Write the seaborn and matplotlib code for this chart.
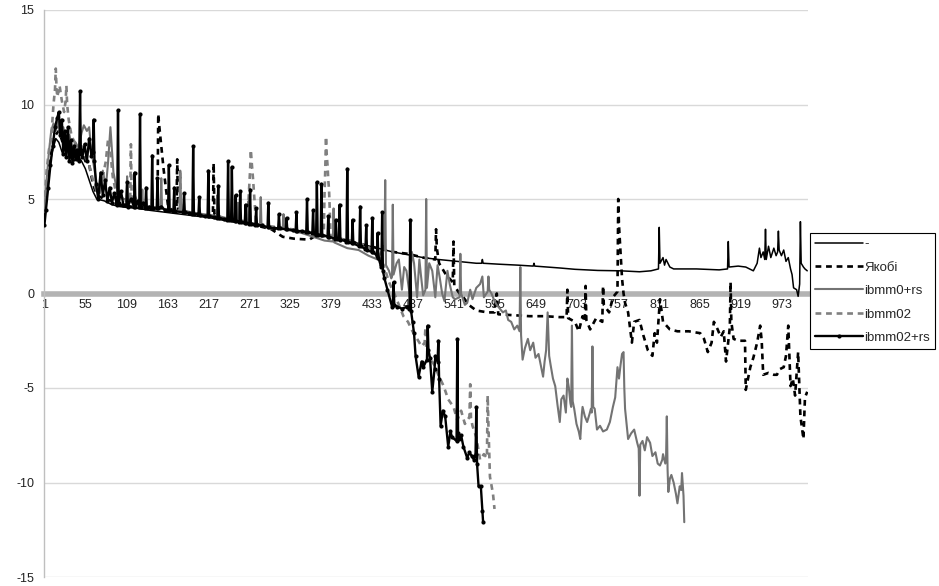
import matplotlib
matplotlib.use("Agg")
import matplotlib.pyplot as plt
import seaborn as sns

# --- дані: пари (номер точки, значення) ---
x_tick_labels = [1, 55, 109, 163, 217, 271, 325, 379, 433, 487, 541, 595, 649, 703, 757, 811, 865, 919, 973]
y_ticks = [-15, -10, -5, 0, 5, 10, 15]

dash_pts = [(1, 3.8), (4, 5.2), (8, 6.8), (12, 7.6), (16, 8.2), (20, 8.0), (25, 7.4), (30, 7.9), (35, 7.2),
            (40, 7.0), (45, 7.3), (50, 7.0), (55, 6.6), (60, 6.0), (65, 5.4), (70, 5.0), (80, 4.9), (90, 4.7),
            (100, 4.6), (110, 4.55), (125, 4.5), (140, 4.4), (160, 4.3), (180, 4.2), (200, 4.1), (220, 4.0),
            (240, 3.85), (260, 3.75), (280, 3.6), (300, 3.5), (320, 3.4), (340, 3.3), (360, 3.15), (380, 3.0),
            (400, 2.8), (420, 2.6), (440, 2.4), (460, 2.2), (480, 2.05), (500, 1.9), (520, 1.8), (545, 1.7),
            (570, 1.6), (577, 1.6), (578, 1.8), (579, 1.6), (600, 1.55), (625, 1.5), (645, 1.45), (646, 1.6),
            (647, 1.45), (680, 1.35), (700, 1.28), (730, 1.22), (760, 1.2), (785, 1.15), (800, 1.2),
            (810, 1.3), (811, 3.5), (812, 1.6), (816, 1.9), (818, 1.5), (820, 1.8), (825, 1.4), (830, 1.3),
            (860, 1.3), (890, 1.25), (901, 1.3), (902, 2.75), (903, 1.4), (915, 1.45), (925, 1.4), (935, 1.2),
            (940, 1.6), (943, 2.4), (945, 1.9), (948, 2.2), (950, 1.8), (951, 3.4), (952, 1.8), (955, 2.5),
            (958, 1.9), (962, 2.4), (965, 2.0), (967, 2.2), (968, 3.3), (969, 2.3), (972, 2.0), (975, 2.3),
            (978, 1.7), (981, 1.9), (984, 1.3), (986, 1.0), (988, 0.3), (992, 0.2), (994, -0.15), (996, 0.5),
            (997, 3.8), (998, 1.6), (1001, 1.4), (1003, 1.3), (1006, 1.2)]

jac_pts = [(1, 4.0), (4, 5.5), (8, 7.0), (12, 7.8), (16, 8.4), (20, 8.6), (25, 8.0), (30, 8.3), (35, 7.6),
           (40, 7.8), (45, 7.4), (50, 7.6), (55, 7.0), (60, 6.8), (65, 5.8), (70, 5.2), (80, 5.0), (90, 4.9),
           (100, 4.7), (115, 4.6), (130, 4.5), (150, 4.5), (151, 9.5), (152, 9.0), (154, 8.2), (156, 7.4),
           (158, 6.6), (161, 5.6), (164, 4.6), (170, 4.4), (175, 4.4), (176, 7.1), (177, 4.4), (190, 4.3),
           (205, 4.2), (223, 4.1), (224, 6.9), (225, 4.2), (240, 3.9), (260, 3.75), (280, 3.6), (300, 3.4),
           (315, 3.0), (330, 2.9), (350, 2.85), (360, 3.1), (380, 3.0), (400, 2.8), (420, 2.6), (440, 2.4),
           (460, 2.2), (480, 2.1), (500, 1.9), (516, 1.8), (517, 3.4), (518, 2.4), (521, 1.6), (530, 1.0),
           (539, 0.6), (540, 2.75), (541, 0.4), (548, 0.0), (553, -0.2), (560, -0.6), (570, -0.9), (585, -1.0),
           (594, -1.0), (595, -0.4), (597, 0.0), (599, -1.1), (620, -1.15), (640, -1.2), (660, -1.2),
           (680, -1.25), (689, -1.25), (690, 0.2), (691, -1.3), (700, -1.5), (705, -2.0), (710, -1.2),
           (713, -1.5), (714, 0.4), (715, -1.4), (720, -1.9), (728, -1.3), (736, -1.5), (737, 0.4),
           (738, -0.6), (745, -1.0), (750, -0.2), (756, 0.1), (757, 5.0), (758, 3.6), (760, 2.2), (762, 0.8),
           (764, 0.0), (766, -0.5), (770, -1.0), (775, -2.6), (778, -1.5), (785, -1.4), (790, -2.2),
           (796, -3.0), (802, -3.3), (805, -2.1), (808, -2.6), (812, -0.3), (816, -1.5), (825, -1.9),
           (835, -2.0), (850, -2.0), (865, -2.1), (870, -2.4), (875, -3.1), (880, -2.6), (883, -1.5),
           (888, -1.9), (892, -2.3), (896, -2.0), (899, -3.6), (904, -1.8), (905, 0.6), (906, -1.5),
           (909, -2.4), (915, -2.5), (924, -2.5), (925, -5.1), (928, -4.5), (931, -3.9), (935, -3.4),
           (940, -2.6), (944, -1.7), (946, -2.5), (948, -4.3), (955, -4.2), (962, -4.3), (966, -4.3),
           (970, -4.0), (975, -3.9), (978, -3.3), (981, -1.7), (984, -4.9), (987, -4.5), (990, -5.4),
           (994, -3.1), (997, -6.5), (1001, -7.7), (1003, -5.5), (1006, -5.2)]

g0_pts = [(1, 4.3), (4, 6.0), (7, 7.5), (10, 8.6), (13, 9.0), (16, 8.6), (19, 9.1), (22, 8.3), (26, 8.8),
          (30, 7.9), (34, 8.4), (38, 7.6), (42, 8.0), (46, 7.7), (50, 8.5), (53, 8.9), (57, 8.6), (60, 8.8),
          (63, 7.5), (66, 6.8), (70, 5.8), (74, 5.3), (78, 6.5), (82, 5.6), (85, 7.0), (87, 8.2), (88, 8.8),
          (90, 7.6), (92, 6.4), (95, 5.8), (100, 5.3), (105, 5.0), (109, 5.0), (110, 6.2), (111, 4.9),
          (120, 5.2), (125, 4.7), (129, 4.7), (130, 5.5), (131, 4.6), (140, 4.5), (150, 4.6), (154, 4.5),
          (155, 6.1), (156, 4.5), (170, 4.4), (179, 4.35), (180, 6.5), (181, 4.4), (195, 4.3), (210, 4.2),
          (228, 4.1), (229, 5.2), (230, 4.1), (245, 3.95), (255, 3.9), (256, 4.8), (257, 3.9), (269, 3.8),
          (270, 4.9), (271, 3.75), (285, 3.65), (286, 5.1), (287, 3.6), (300, 3.45), (315, 3.4), (316, 4.2),
          (317, 3.4), (340, 3.2), (355, 3.0), (370, 2.8), (381, 2.75), (382, 4.5), (383, 2.7), (400, 2.4),
          (415, 2.3), (428, 2.0), (440, 1.8), (448, 2.5), (449, 2.3), (450, 6.0), (451, 1.5), (455, 1.2),
          (458, 0.8), (459, 0.9), (460, 4.7), (461, 1.0), (465, 1.6), (468, 1.8), (472, 0.2), (475, 1.4),
          (478, 1.2), (482, 0.0), (485, 2.2), (488, 1.6), (492, -0.2), (495, 1.8), (497, 1.0), (500, -0.1),
          (503, 0.2), (504, 5.0), (505, 0.3), (508, 1.6), (512, 1.2), (516, -0.2), (519, 1.5), (522, 0.8),
          (525, 0.0), (528, -0.4), (532, 1.2), (535, 0.5), (539, -0.2), (542, -0.3), (548, -0.2), (549, 2.1),
          (550, 0.0), (555, -0.6), (558, -0.5), (562, 0.2), (565, -0.3), (570, 0.3), (575, 0.5), (578, 0.9),
          (580, -0.2), (585, 0.1), (586, 0.9), (587, 0.2), (590, 0.0), (594, -0.4), (597, -0.6), (601, -0.8),
          (605, -1.0), (609, -0.9), (612, -1.4), (616, -1.5), (620, -1.9), (624, -1.7), (627, -2.0),
          (628, 1.4), (629, -2.2), (631, -3.5), (634, -2.9), (638, -2.4), (641, -3.0), (645, -2.6),
          (648, -3.4), (652, -3.2), (655, -3.8), (658, -4.4), (660, -3.6), (662, -3.0), (664, -1.0),
          (666, -3.3), (668, -3.8), (671, -4.5), (674, -4.9), (677, -5.9), (680, -6.8), (682, -5.6),
          (685, -5.4), (688, -6.3), (690, -4.5), (692, -5.0), (694, -5.8), (695, -6.0), (696, -1.7),
          (697, -5.7), (699, -6.1), (702, -6.9), (705, -7.3), (707, -7.7), (709, -6.4), (710, -6.0),
          (713, -6.5), (716, -6.8), (719, -6.4), (721, -6.1), (722, -6.3), (723, -2.8), (724, -6.0),
          (726, -6.1), (729, -7.2), (733, -7.0), (737, -7.3), (742, -7.2), (746, -6.8), (750, -6.0),
          (753, -5.5), (756, -3.9), (758, -4.5), (760, -3.8), (762, -3.2), (764, -3.1), (765, -5.0),
          (766, -6.1), (770, -7.7), (774, -7.4), (778, -7.2), (782, -7.9), (784, -8.2), (785, -10.7),
          (786, -8.0), (789, -7.8), (792, -8.3), (795, -7.6), (799, -7.9), (802, -8.6), (806, -8.4),
          (809, -9.0), (812, -9.1), (815, -8.8), (816, -8.5), (819, -9.0), (820, -8.7), (821, -6.5),
          (822, -9.3), (823, -10.5), (825, -9.8), (827, -9.6), (830, -10.0), (833, -10.6), (835, -11.1),
          (838, -10.2), (840, -10.4), (841, -9.5), (842, -10.1), (843, -10.7), (844, -12.1)]

g2_pts = [(1, 4.6), (4, 6.5), (7, 7.6), (10, 8.2), (13, 10.0), (15, 10.8), (16, 11.9), (17, 10.9), (18, 10.4),
          (21, 11.0), (24, 10.2), (27, 9.6), (29, 10.2), (30, 11.0), (31, 10.0), (33, 9.2), (37, 8.3), (41, 8.0),
          (45, 7.5), (50, 7.8), (55, 7.2), (60, 6.8), (65, 6.0), (70, 5.4), (78, 6.2), (82, 7.0), (85, 8.2),
          (88, 7.5), (91, 6.2), (95, 5.4), (105, 5.0), (112, 4.8), (114, 4.8), (115, 7.9), (116, 4.8),
          (130, 4.6), (145, 4.5), (160, 4.45), (179, 4.35), (180, 6.4), (181, 4.3), (200, 4.2), (215, 4.1),
          (230, 4.0), (250, 3.9), (266, 3.8), (270, 5.0), (272, 6.5), (273, 7.6), (274, 7.0), (276, 6.0),
          (278, 4.8), (280, 3.7), (300, 3.55), (320, 3.45), (340, 3.3), (355, 3.2), (369, 3.0), (370, 5.2),
          (371, 6.5), (372, 8.3), (373, 7.3), (374, 6.8), (375, 6.0), (376, 5.5), (377, 4.4), (378, 3.0),
          (390, 2.9), (405, 2.8), (420, 2.6), (430, 2.4), (440, 2.0), (448, 1.5), (455, 0.6), (462, 0.0),
          (468, -0.6), (474, -1.2), (480, -1.5), (486, -2.0), (492, -2.4), (498, -2.8), (502, -2.6),
          (503, -1.8), (504, -2.9), (507, -3.3), (515, -3.8), (520, -4.3), (527, -4.9), (533, -5.6),
          (540, -6.0), (545, -6.7), (550, -6.2), (555, -6.9), (560, -6.6), (561, -6.5), (562, -4.8),
          (563, -6.6), (565, -7.0), (570, -7.6), (575, -8.8), (580, -8.5), (584, -8.7), (585, -5.4),
          (586, -7.0), (588, -9.7), (592, -10.6), (594, -11.4)]

b2_pts = [(1, 3.6), (3, 4.4), (6, 5.6), (9, 6.8), (12, 7.8), (15, 8.8), (18, 9.3), (20, 9.6), (22, 8.4),
          (24, 9.2), (26, 7.4), (28, 8.6), (30, 7.2), (32, 8.8), (34, 7.0), (36, 8.1), (38, 6.9), (40, 7.8),
          (42, 7.1), (44, 7.6), (46, 7.0), (47, 7.4), (48, 10.7), (49, 7.6), (51, 7.2), (54, 7.9), (57, 7.0),
          (60, 8.2), (63, 7.3), (65, 7.5), (66, 9.2), (67, 7.0), (69, 5.8), (72, 5.0), (75, 6.4), (78, 5.2),
          (81, 6.0), (84, 4.9), (87, 5.6), (90, 4.8), (93, 5.3), (96, 4.8), (97, 4.7), (98, 9.7), (99, 4.8),
          (102, 5.4), (105, 4.7), (109, 4.7), (110, 5.9), (111, 4.6), (115, 5.0), (119, 4.6), (120, 6.4),
          (121, 4.6), (124, 4.9), (126, 4.6), (127, 9.5), (128, 4.6), (131, 4.8), (134, 4.5), (135, 5.6),
          (136, 4.5), (139, 4.6), (142, 4.5), (143, 7.3), (144, 4.5), (149, 4.5), (150, 6.1), (151, 4.5),
          (155, 4.6), (160, 4.4), (164, 4.4), (165, 6.8), (166, 4.4), (171, 4.35), (172, 5.6), (173, 4.35),
          (184, 4.3), (185, 5.3), (186, 4.3), (192, 4.25), (196, 4.2), (197, 7.8), (198, 4.2), (204, 4.2),
          (205, 5.1), (206, 4.15), (212, 4.1), (216, 4.1), (217, 6.5), (218, 4.1), (224, 4.05), (229, 4.0),
          (230, 5.7), (231, 4.0), (237, 3.95), (242, 3.9), (243, 7.0), (244, 3.9), (247, 3.9), (248, 6.7),
          (249, 3.9), (252, 3.85), (253, 5.2), (254, 3.85), (258, 3.8), (259, 5.4), (260, 3.8), (265, 3.75),
          (266, 4.7), (267, 3.75), (271, 3.7), (272, 5.5), (273, 3.7), (279, 3.65), (280, 4.5), (281, 3.65),
          (288, 3.6), (295, 3.5), (296, 4.8), (297, 3.5), (303, 3.45), (309, 3.45), (310, 4.2), (311, 3.45),
          (319, 3.4), (320, 4.0), (321, 3.4), (328, 3.35), (332, 3.3), (333, 4.3), (334, 3.3), (340, 3.3),
          (346, 3.25), (347, 5.0), (348, 3.25), (354, 3.2), (355, 4.4), (356, 3.2), (359, 3.1), (360, 5.9),
          (361, 3.1), (365, 3.1), (366, 5.8), (367, 3.1), (374, 3.0), (375, 4.1), (376, 3.0), (384, 2.9),
          (385, 3.9), (386, 2.9), (389, 2.9), (390, 4.7), (391, 2.85), (399, 2.75), (400, 6.6), (401, 2.75),
          (406, 2.65), (407, 3.9), (408, 2.65), (416, 2.5), (417, 4.6), (418, 2.5), (424, 2.35), (425, 3.6),
          (426, 2.3), (432, 2.2), (433, 4.0), (434, 2.2), (439, 2.0), (440, 3.2), (441, 1.9), (444, 1.5),
          (445, 1.4), (446, 4.3), (447, 1.2), (449, 0.8), (453, 0.2), (459, -0.7), (460, -0.6), (461, 0.6),
          (462, -0.6), (466, -0.7), (472, -0.8), (479, -0.7), (482, -0.8), (483, 3.9), (484, -0.9),
          (486, -1.5), (488, -2.1), (490, -3.3), (494, -4.4), (498, -3.6), (500, -3.9), (505, -3.5),
          (506, -1.7), (507, -3.0), (509, -3.4), (512, -5.2), (515, -4.0), (516, -3.3), (519, -3.6),
          (520, -2.5), (521, -4.5), (523, -7.0), (526, -6.2), (529, -6.5), (533, -8.1), (536, -7.3),
          (538, -7.6), (544, -7.8), (545, -2.4), (546, -7.4), (547, -7.7), (550, -7.5), (553, -8.1),
          (558, -8.7), (561, -8.4), (564, -8.6), (567, -8.8), (569, -8.5), (570, -6.0), (571, -9.0),
          (573, -10.2), (576, -10.2), (578, -11.5), (579, -12.1)]

# --- оформлення ---
sns.set_style("white")
plt.rcParams['font.family'] = ['Liberation Sans', 'DejaVu Sans']
plt.rcParams['axes.unicode_minus'] = False

fig = plt.figure(figsize=(9.39, 5.86), dpi=100)
ax = fig.add_axes([44 / 939, 9 / 586, 764 / 939, 567 / 586])

series = [
    ('-', dash_pts, dict(color='black', linewidth=1.1)),
    ('Якобі', jac_pts, dict(color='black', linewidth=1.9, linestyle=(0, (2.2, 1.8)))),
    ('ibmm0+rs', g0_pts, dict(color='#737373', linewidth=1.5)),
    ('ibmm02', g2_pts, dict(color='#808080', linewidth=1.9, linestyle=(0, (2.2, 1.8)))),
    ('ibmm02+rs', b2_pts, dict(color='black', linewidth=1.7, marker='o', markersize=3,
                               markeredgewidth=0)),
]
for z, (name, pts, style) in enumerate(series):
    xs = [p[0] for p in pts]
    ys = [p[1] for p in pts]
    sns.lineplot(x=xs, y=ys, ax=ax, estimator=None, sort=False, label=name, zorder=3 + z, **style)

ax.set_xlim(0.5, 1007)
ax.set_ylim(-15, 15)
ax.set_xticks(x_tick_labels)
ax.set_xticklabels([str(t) for t in x_tick_labels])
ax.set_yticks(y_ticks)
ax.set_yticklabels([str(t) for t in y_ticks])
ax.set_xlabel('')
ax.set_ylabel('')

ax.yaxis.grid(True, color='#d9d9d9', linewidth=1)
ax.set_axisbelow(True)

for s in ['top', 'right']:
    ax.spines[s].set_visible(False)
ax.spines['left'].set_color('#bfbfbf')
ax.spines['left'].set_linewidth(1)
ax.spines['bottom'].set_position(('data', 0))
ax.spines['bottom'].set_color('#b3b3b3')
ax.spines['bottom'].set_linewidth(4)
ax.spines['bottom'].set_zorder(1)

ax.tick_params(axis='x', length=0, pad=4, labelsize=9, labelcolor='#222222')
ax.tick_params(axis='y', length=4, width=1, color='#bfbfbf', direction='out', pad=3,
               labelsize=9, labelcolor='#222222')

leg = ax.legend(loc='center left', bbox_to_anchor=(810 / 939, 1 - 291 / 586),
                bbox_transform=fig.transFigure, borderaxespad=0, fontsize=9.5,
                handlelength=3.6, handletextpad=0.1, labelspacing=0.85,
                frameon=True, fancybox=False, framealpha=1, edgecolor='black',
                borderpad=0.4)
leg.get_frame().set_linewidth(0.8)

fig.savefig('out.png', dpi=100)
